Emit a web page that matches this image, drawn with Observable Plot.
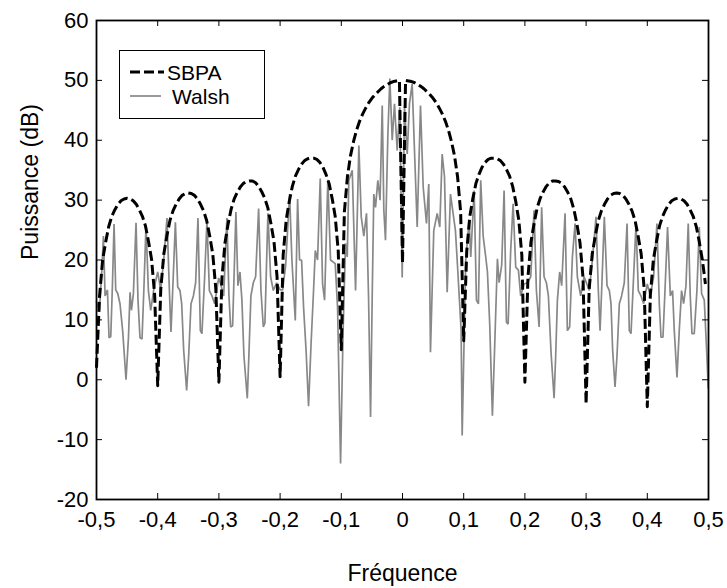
<!DOCTYPE html>
<html><head><meta charset="utf-8">
<script src="https://cdn.jsdelivr.net/npm/d3@7"></script>
<script src="https://cdn.jsdelivr.net/npm/@observablehq/plot@0.6"></script>
<style>
html,body{margin:0;padding:0;background:#fff;}
#wrap{position:relative;width:727px;height:588px;font-family:"Liberation Sans",Arial,sans-serif;}
#legend{position:absolute;left:119px;top:50px;width:144px;height:67px;border:1px solid #000;background:#fff;}
#legend svg{display:block;}
</style></head>
<body><div id="wrap"><div id="chart"></div><div id="legend"></div></div>
<script>
// ---- axis ticks ----
const xTicks = [-0.5, -0.4, -0.3, -0.2, -0.1, 0, 0.1, 0.2, 0.3, 0.4, 0.5];
const yTicks = [-20, -10, 0, 10, 20, 30, 40, 50, 60];
const xTitle = "Fréquence";
const yTitle = "Puissance (dB)";
const seriesNames = ["SBPA", "Walsh"];

// ---- SBPA (dashed) : values every 0.005 from -0.5 to 0.495 ----
const sbpaStart = -0.5, sbpaStep = 0.005;
const sbpaDb = [
  2, 14, 20, 23, 25.6, 27.3, 28.4, 29.3, 29.9, 30.2, 30.3, 30.2, 29.9, 29.3, 28.4, 27.3, 25.7, 23.1, 20.1, 14.2,
  -1, 15.1, 21, 24, 26.6, 28.2, 29.3, 30.2, 30.8, 31.1, 31.2, 31.1, 30.8, 30.2, 29.3, 28.2, 26.6, 24, 21, 15.1,
  -0.4, 17, 22.9, 26, 28.5, 30.2, 31.3, 32.2, 32.8, 33.1, 33.2, 33.2, 32.9, 32.3, 31.4, 30.3, 28.7, 26.1, 23.1, 17.2,
  0.5, 20.8, 26.7, 29.8, 32.3, 34, 35.1, 36, 36.6, 36.9, 37, 37, 36.8, 36.3, 35.5, 34.3, 32.8, 30.3, 27.3, 21.5,
  5, 28, 33.9, 37.4, 39.8, 41.7, 43.2, 44.4, 45.4, 46.3, 47, 47.6, 48.1, 48.6, 49, 49.3, 49.6, 49.8, 49.9, 50,
  19.5, 50, 49.9, 49.8, 49.6, 49.3, 49, 48.6, 48.1, 47.6, 47, 46.3, 45.4, 44.4, 43.2, 41.7, 39.8, 37.4, 33.9, 28,
  6.5, 21.5, 27.3, 30.3, 32.8, 34.3, 35.5, 36.3, 36.8, 37, 37, 36.9, 36.6, 36, 35.1, 34, 32.3, 29.8, 26.7, 20.8,
  -0.4, 17.2, 23.1, 26.1, 28.7, 30.3, 31.4, 32.3, 32.9, 33.2, 33.2, 33.1, 32.8, 32.2, 31.3, 30.2, 28.5, 26, 22.9, 17,
  -4, 15.1, 21, 24, 26.6, 28.2, 29.3, 30.2, 30.8, 31.1, 31.2, 31.1, 30.8, 30.2, 29.3, 28.2, 26.6, 24, 21, 15.1,
  -4.5, 14.2, 20.1, 23.1, 25.7, 27.3, 28.4, 29.3, 29.9, 30.2, 30.3, 30.2, 29.9, 29.3, 28.4, 27.3, 25.6, 23, 20, 16
];

// ---- Walsh (grey) : [frequency, dB] read lobe by lobe ----
const walshL1 = [[-0.5,13],[-0.4952,11.6],[-0.4914,18],[-0.4887,24],[-0.486,14],[-0.4821,15],[-0.4795,7],[-0.4767,7.2],[-0.474,15.7],[-0.4713,26],[-0.4686,15],[-0.4653,14.4],[-0.4616,12.7],[-0.4571,8],[-0.4518,0],[-0.4478,7],[-0.4452,14.6],[-0.4429,11.6],[-0.4397,14.4],[-0.4354,26.2],[-0.4322,13.3],[-0.4289,7],[-0.4256,6.8],[-0.4224,15.7],[-0.4191,25.8],[-0.4152,14.9],[-0.4114,11.6],[-0.4065,15],[-0.4,18]];
const walshL2 = [[-0.3951,15],[-0.3902,20],[-0.3848,27],[-0.3809,14.9],[-0.3783,8],[-0.3755,14.9],[-0.3711,26.3],[-0.3673,15.5],[-0.3636,14.9],[-0.3608,12.7],[-0.3576,5],[-0.3527,-1.8],[-0.3494,4],[-0.3456,12.7],[-0.3417,14],[-0.338,16.2],[-0.3342,27],[-0.3303,8.2],[-0.3277,7.7],[-0.3233,17.2],[-0.3195,26.5],[-0.3156,14.9],[-0.3113,14],[-0.3069,12.7],[-0.3004,17]];
const walshL3 = [[-0.2971,16],[-0.2922,14],[-0.2869,27],[-0.2836,14],[-0.2808,8.8],[-0.2776,9],[-0.2722,28],[-0.2689,15.7],[-0.2656,18],[-0.2624,13.3],[-0.2591,4],[-0.2536,-3.1],[-0.2509,4.4],[-0.2477,14],[-0.2438,16.2],[-0.24,17.2],[-0.2351,28.6],[-0.2313,14.9],[-0.2274,8.8],[-0.2248,9.5],[-0.2199,27.8],[-0.2155,17.2],[-0.2111,14.9],[-0.2057,16.2],[-0.2,15]];
const walshL4 = [[-0.1959,15],[-0.191,19],[-0.1845,31],[-0.1807,20],[-0.1752,9.9],[-0.1714,30.2],[-0.1682,20],[-0.1649,20],[-0.1616,12],[-0.1576,5],[-0.1535,-4.4],[-0.1494,6],[-0.1453,15],[-0.1425,21.6],[-0.1388,20],[-0.1344,33.6],[-0.1306,16],[-0.1273,13.3],[-0.122,33.4],[-0.1176,20],[-0.1099,19.4],[-0.1061,12],[-0.1012,-14]];
const walshMain = [[-0.0971,8],[-0.0931,22.8],[-0.0903,20.5],[-0.0877,33.3],[-0.0821,35],[-0.0767,14.9],[-0.0713,39.1],[-0.0674,27.2],[-0.0632,24],[-0.0588,27.8],[-0.0555,14],[-0.0522,-6.2],[-0.0495,14],[-0.0469,31],[-0.0441,28.8],[-0.0403,33.3],[-0.0367,30],[-0.0331,45.8],[-0.0305,28.3],[-0.0278,23.3],[-0.024,40.6],[-0.0207,50.3],[-0.0168,40],[-0.0131,46.1],[-0.0087,38.3],[-0.0044,45.5],[-0.0005,17.1],[0.0033,45.5],[0.0077,37.7],[0.0114,46.1],[0.0158,49.4],[0.0196,38.3],[0.024,25.5],[0.0294,45.8],[0.0338,32.2],[0.0392,26.1],[0.0429,32.7],[0.0457,4.6],[0.0511,24.9],[0.0567,27.8],[0.0609,25.5],[0.0648,37.7],[0.0686,33.9],[0.073,14.6],[0.0784,31],[0.0865,24.9],[0.0903,18.3],[0.0958,8.2],[0.0975,-9.3]];
const walshR1 = [[0.1033,19.9],[0.1089,26.6],[0.1115,20.5],[0.1171,31.6],[0.1208,13.3],[0.1241,12.7],[0.1278,33.3],[0.1318,24],[0.136,20.5],[0.1388,18],[0.1425,9.3],[0.1469,-6],[0.1507,5.8],[0.1551,20.2],[0.1579,16.2],[0.1621,19.2],[0.166,31.6],[0.1698,9.6],[0.1726,9.3],[0.1768,21.6],[0.1807,29.4],[0.185,18.8],[0.1894,18.3],[0.1931,14],[0.1987,16]];
const walshR2 = [[0.2041,16.2],[0.2095,17.2],[0.215,28.3],[0.2188,14.9],[0.2232,8.8],[0.2274,28.8],[0.2313,17.2],[0.2351,16.2],[0.2384,14],[0.2428,4.4],[0.2477,-3.1],[0.2503,4],[0.2531,13.3],[0.2568,18],[0.2601,15.7],[0.2656,27.8],[0.2694,8.2],[0.2731,8.8],[0.2776,20.5],[0.282,26.1],[0.2857,17.2],[0.2911,14],[0.2967,17.2]];
const walshR3 = [[0.3053,14.9],[0.3107,20.5],[0.3162,27.2],[0.32,14.9],[0.3228,8.2],[0.3254,14.9],[0.3298,27.2],[0.3342,15.7],[0.338,14.9],[0.3407,12.7],[0.3434,4.9],[0.3473,-1.2],[0.3505,4],[0.3543,12.7],[0.358,14],[0.3624,16.2],[0.3669,26.1],[0.3706,8.2],[0.3734,7.7],[0.3776,17.2],[0.3816,26.1],[0.3853,14.9],[0.3897,14],[0.394,12.7],[0.4,16]];
const walshR4 = [[0.4049,14],[0.4103,17.2],[0.4158,26.1],[0.4196,12.7],[0.4224,7.1],[0.4256,7.1],[0.4289,14.9],[0.4331,25.5],[0.4376,14],[0.4413,14.9],[0.4441,8.2],[0.4485,0.4],[0.4522,8.2],[0.456,14.9],[0.4593,12.7],[0.4632,15.7],[0.4669,26.1],[0.4702,14],[0.473,7.7],[0.4767,7.7],[0.4811,14.9],[0.4849,25.5],[0.4887,14.4],[0.4931,13.3],[0.4975,3.7],[0.4996,-1.4]];

// ---- build tables ----
const sbpa = sbpaDb.map((p, i) => ({f: sbpaStart + i * sbpaStep, p}));
const walsh = [walshL1, walshL2, walshL3, walshL4, walshMain, walshR1, walshR2, walshR3, walshR4]
  .flat().map(([f, p]) => ({f, p}));

const fmtX = d => d === 0 ? "0" : d.toFixed(1).replace(".", ",");
const fmtY = d => String(d);
const W = 727, H = 588, mT = 20, mR = 19, mB = 89, mL = 96;
const innerW = W - mL - mR, innerH = H - mT - mB, tickLen = 6;
const font = "'Liberation Sans', Arial, sans-serif";

const chart = Plot.plot({
  width: W, height: H,
  marginTop: mT, marginRight: mR, marginBottom: mB, marginLeft: mL,
  style: {fontFamily: font, fontSize: "22px", color: "#000", background: "#fff"},
  x: {domain: [-0.5, 0.5]},
  y: {domain: [-20, 60]},
  marks: [
    Plot.line(walsh, {x: "f", y: "p", stroke: "#888888", strokeWidth: 1.7, strokeLinejoin: "miter"}),
    Plot.line(sbpa, {x: "f", y: "p", stroke: "#000", strokeWidth: 3, strokeDasharray: "10,4", strokeLinecap: "butt"}),
    Plot.frame({stroke: "#000", strokeWidth: 1.8}),
    Plot.tickX(xTicks, {x: d => d, insetTop: innerH - tickLen, stroke: "#000"}),
    Plot.tickX(xTicks, {x: d => d, insetBottom: innerH - tickLen, stroke: "#000"}),
    Plot.tickY(yTicks, {y: d => d, insetRight: innerW - tickLen, stroke: "#000"}),
    Plot.tickY(yTicks, {y: d => d, insetLeft: innerW - tickLen, stroke: "#000"}),
    Plot.axisX({ticks: xTicks, tickSize: 0, tickPadding: 12, tickFormat: fmtX, label: null, fontSize: 22}),
    Plot.axisY({ticks: yTicks, tickSize: 0, tickPadding: 8, tickFormat: fmtY, label: null, fontSize: 22}),
    Plot.text([xTitle], {text: d => d, frameAnchor: "bottom", dy: 81, fontSize: 23}),
    Plot.text([yTitle], {text: d => d, frameAnchor: "left", dx: -66, rotate: -90, fontSize: 23})
  ]
});
document.getElementById("chart").appendChild(chart);

// ---- legend ----
const lg = d3.select("#legend").append("svg").attr("width", 144).attr("height", 67);
lg.append("line").attr("x1", 10).attr("x2", 44).attr("y1", 21).attr("y2", 21)
  .attr("stroke", "#000").attr("stroke-width", 3).attr("stroke-dasharray", "10,4");
lg.append("text").attr("x", 47).attr("y", 29).attr("font-family", font).attr("font-size", 21).text(seriesNames[0]);
lg.append("line").attr("x1", 10).attr("x2", 41).attr("y1", 45).attr("y2", 45)
  .attr("stroke", "#888888").attr("stroke-width", 1.7);
lg.append("text").attr("x", 52).attr("y", 53).attr("font-family", font).attr("font-size", 21).text(seriesNames[1]);
</script>
</body></html>
